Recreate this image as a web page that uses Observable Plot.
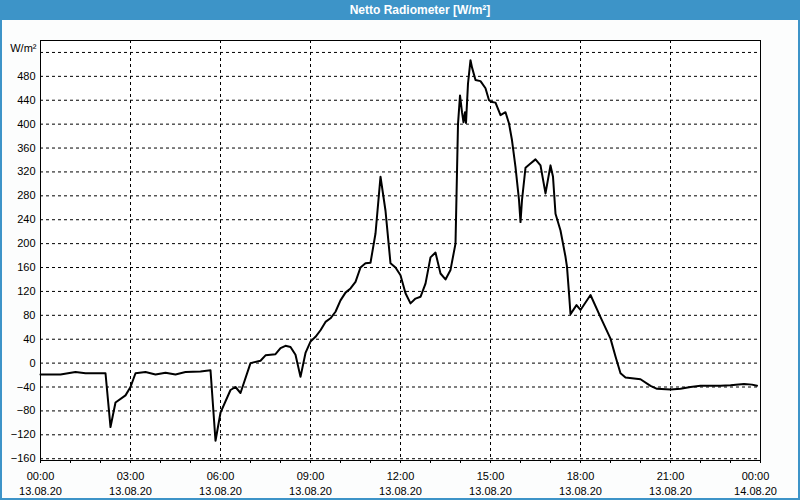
<!DOCTYPE html>
<html><head><meta charset="utf-8">
<script src="https://cdn.jsdelivr.net/npm/d3@7"></script>
<script src="https://cdn.jsdelivr.net/npm/@observablehq/plot@0.6"></script>
<style>
html,body{margin:0;padding:0;background:#fff;}
#wrap{position:relative;width:800px;height:500px;background:#fcfdfd;overflow:hidden;}
#title{position:absolute;left:40px;top:0;width:760px;height:20px;color:#fff;font:bold 12px "Liberation Sans",sans-serif;line-height:20px;text-align:center;}
#titlebg{position:absolute;left:0;top:0;width:800px;height:20px;background:#3d94c8;}
#chart{position:absolute;left:0;top:20px;}
#border{position:absolute;left:0;top:20px;width:800px;height:480px;box-sizing:border-box;border:2px solid #3d94c8;border-top:none;pointer-events:none;}
</style></head><body>
<div id="wrap"><div id="titlebg"></div><div id="title">Netto Radiometer [W/m²]</div><div id="chart"></div><div id="border"></div></div>
<script>
// Date of the series (13.08.20) and readings
const times = ["00:00","00:20","00:40","01:10","01:30","02:10","02:20","02:30","02:50","03:00",
"03:10","03:30","03:50","04:10","04:30","04:50","05:20","05:40","05:50","06:00",
"06:20","06:30","06:40","07:00","07:20","07:30","07:50","08:00","08:10","08:20",
"08:30","08:40","08:50","09:00","09:10","09:20","09:30","09:40","09:50","10:00",
"10:10","10:20","10:30","10:40","10:50","11:00","11:10","11:20","11:30","11:40",
"11:50","12:00","12:10","12:20","12:30","12:40","12:50","13:00","13:10","13:20",
"13:30","13:40","13:50","13:55","13:59","14:03","14:06","14:09","14:11","14:15",
"14:20","14:23","14:30","14:40","14:50","14:57","15:03","15:10","15:20","15:30",
"15:37","15:43","15:50","15:57","16:00","16:03","16:10","16:20","16:30","16:40",
"16:50","17:00","17:05","17:10","17:20","17:30","17:33","17:37","17:40","17:52",
"18:00","18:20","18:40","19:00","19:10","19:20","19:30","20:00","20:20","20:33",
"21:00","21:20","21:40","22:00","22:40","23:00","23:27","23:43","23:53"];
const values = [-19,-19,-19,-15,-17,-17,-107,-66,-54,-40,
-17,-15,-19,-16,-19,-15,-14,-12,-130,-83,
-45,-40,-50,0,4,13,15,25,29,27,
14,-23,17,36,44,55,69,75,86,105,
118,125,136,160,167,168,217,312,255,167,
160,147,117,100,108,111,133,177,185,150,
140,156,200,400,448,420,403,420,402,468,
507,495,474,472,460,440,437,436,415,420,
401,373,328,273,236,273,327,334,341,331,
284,331,312,250,222,178,161,117,82,97,
89,114,77,41,11,-17,-24,-27,-38,-43,
-44,-43,-40,-38,-38,-37,-35,-36,-38];

const majorHours = [0,3,6,9,12,15,18,21,24];
const gridHours = [3,6,9,12,15,18,21];
const minorHours = d3.range(0,25);
const yTicks = [-160,-120,-80,-40,0,40,80,120,160,200,240,280,320,360,400,440,480];
const yGrid = [-160,-120,-80,-40,0,40,80,120,160,200,240,280,320,360,400,440,480,520];
const yUnit = "W/m²";

const hour = h => new Date(Date.UTC(2020,7,13,h,0));
const parse = s => { const [h,m] = s.split(":").map(Number); return new Date(Date.UTC(2020,7,13,h,m)); };
const data = times.map((t,i) => ({time: parse(t), value: values[i]}));
const fmt = d3.utcFormat("%H:%M\n%d.%m.%y");

const grid = {stroke:"black", strokeDasharray:"3,3", strokeWidth:1, strokeOpacity:1};

const chart = Plot.plot({
  width: 800, height: 480,
  marginTop: 20, marginBottom: 40, marginLeft: 40, marginRight: 40,
  style: {background:"transparent", fontFamily:"'Liberation Sans', sans-serif", fontSize:"11px", color:"black", overflow:"visible"},
  x: {type:"utc", domain:[hour(0), hour(24)], label:null},
  y: {domain:[-163, 540], label:null},
  marks: [
    Plot.frame({fill:"white", stroke:"none"}),
    Plot.ruleY(yGrid, {y: d => d, ...grid}),
    Plot.ruleX(gridHours.map(hour), {x: d => d, ...grid}),
    Plot.line(data, {x:"time", y:"value", stroke:"black", strokeWidth:2, curve:"linear"}),
    Plot.frame({stroke:"black", strokeWidth:1}),
    Plot.axisX(minorHours.map(hour), {tickSize:3, tickFormat: () => "", label:null, stroke:"black", strokeOpacity:1}),
    Plot.axisX(majorHours.slice(0,-1).map(hour), {tickSize:0, tickPadding:9, tickFormat: fmt, label:null, lineHeight:1.36, fill:"black"}),
    Plot.axisX([hour(24)], {tickSize:0, tickPadding:9, dx:-5, lineHeight:1.36, fill:"black", label:null,
      tickFormat: () => "00:00\n14.08.20"}),
    Plot.axisY(yTicks, {tickSize:0, tickPadding:5, fill:"black", label:null}),
    Plot.text([yUnit], {y: () => 520, frameAnchor:"left", textAnchor:"end", dx:-4, dy:-4, fill:"black", fontSize:11})
  ]
});
document.getElementById("chart").appendChild(chart);
</script>
</body></html>
